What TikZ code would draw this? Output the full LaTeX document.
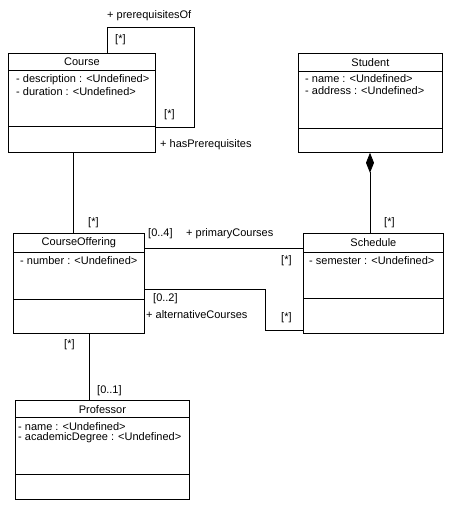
\documentclass[tikz,border=0pt]{standalone}
\usepackage{fontspec}
\setmainfont{Liberation Sans}
\usetikzlibrary{arrows.meta}
\tikzset{
	classbox/.style={draw, line width=0.8pt, inner sep=0pt, anchor=north west},
	ctitle/.style={inner sep=0pt, font=\fontsize{11}{13}\selectfont},
	cattr/.style={inner sep=0pt, anchor=west, font=\fontsize{11}{13}\selectfont},
	mult/.style={inner sep=0pt, anchor=west, font=\fontsize{11}{13}\selectfont},
	assoc/.style={line width=0.8pt},
}
\begin{document}
\begin{tikzpicture}[x=1pt,y=-1pt]
		\useasboundingbox (0,0) rectangle (450,507);

		% Course
		\node[classbox, minimum width=147pt, minimum height=99pt] (course) at (8,53) {};
		\draw[assoc] ([yshift=-17pt]course.north west) -- ([yshift=-17pt]course.north east);
		\draw[assoc] ([yshift=-73pt]course.north west) -- ([yshift=-73pt]course.north east);
		\node[ctitle] (courseT) at (course.north |- 0,62) {Course};
		\node[cattr] (courseA1) at (16,80) {- description : <Undefined>};
		\node[cattr] (courseA2) at (16,92) {- duration : <Undefined>};

		% Student
		\node[classbox, minimum width=144pt, minimum height=99pt] (student) at (298,53) {};
		\draw[assoc] ([yshift=-18pt]student.north west) -- ([yshift=-18pt]student.north east);
		\draw[assoc] ([yshift=-75pt]student.north west) -- ([yshift=-75pt]student.north east);
		\node[ctitle] (studentT) at (student.north |- 0,63) {Student};
		\node[cattr] (studentA1) at (305,79) {- name : <Undefined>};
		\node[cattr] (studentA2) at (305,91) {- address : <Undefined>};

		% CourseOffering
		\node[classbox, minimum width=131pt, minimum height=100pt] (offering) at (13,233) {};
		\draw[assoc] ([yshift=-19pt]offering.north west) -- ([yshift=-19pt]offering.north east);
		\draw[assoc] ([yshift=-66pt]offering.north west) -- ([yshift=-66pt]offering.north east);
		\node[ctitle] (offeringT) at (offering.north |- 0,243) {CourseOffering};
		\node[cattr] (offeringA1) at (20,261) {- number : <Undefined>};

		% Schedule
		\node[classbox, minimum width=140pt, minimum height=100pt] (schedule) at (303,233) {};
		\draw[assoc] ([yshift=-19pt]schedule.north west) -- ([yshift=-19pt]schedule.north east);
		\draw[assoc] ([yshift=-65pt]schedule.north west) -- ([yshift=-65pt]schedule.north east);
		\node[ctitle] (scheduleT) at (schedule.north |- 0,243) {Schedule};
		\node[cattr] (scheduleA1) at (309,261) {- semester : <Undefined>};

		% Professor
		\node[classbox, minimum width=174pt, minimum height=99pt] (professor) at (15,400) {};
		\draw[assoc] ([yshift=-17pt]professor.north west) -- ([yshift=-17pt]professor.north east);
		\draw[assoc] ([yshift=-74pt]professor.north west) -- ([yshift=-74pt]professor.north east);
		\node[ctitle] (professorT) at (professor.north |- 0,410) {Professor};
		\node[cattr] (professorA1) at (18,427) {- name : <Undefined>};
		\node[cattr] (professorA2) at (18,438) {- academicDegree : <Undefined>};

		% associations
		\draw[assoc] (course.north -| 107,0) |- (194,27) |- (course.east |- 0,127);
		\draw[assoc] (course.south -| 73,0) -- (offering.north -| 73,0);
		\draw[assoc] (offering.east |- 0,248) -- (schedule.west |- 0,248);
		\draw[assoc] (offering.east |- 0,289) -| (265,330) -- (schedule.west |- 0,330);
		\draw[assoc, -{Diamond[length=20pt,width=8pt]}] (schedule.north -| 370,0) -- (student.south -| 370,0);
		\draw[assoc] (offering.south -| 89,0) -- (professor.north -| 89,0);

		% multiplicities and roles
		\node[mult] (preOf) at (107,16) {+ prerequisitesOf};
		\node[mult] (preOfM) at (115,40) {[*]};
		\node[mult] (hasPreM) at (164,115) {[*]};
		\node[mult] (hasPre) at (160,145) {+ hasPrerequisites};
		\node[mult] (offerM1) at (88,223) {[*]};
		\node[mult] (primM1) at (148,234) {[0..4]};
		\node[mult] (prim) at (186,234) {+ primaryCourses};
		\node[mult] (primM2) at (281,261) {[*]};
		\node[mult] (altM1) at (153,299) {[0..2]};
		\node[mult] (alt) at (146,315) {+ alternativeCourses};
		\node[mult] (altM2) at (281,318) {[*]};
		\node[mult] (schedM) at (384,223) {[*]};
		\node[mult] (offerM2) at (64,345) {[*]};
		\node[mult] (profM) at (97,391) {[0..1]};

		\end{tikzpicture}
\end{document}
